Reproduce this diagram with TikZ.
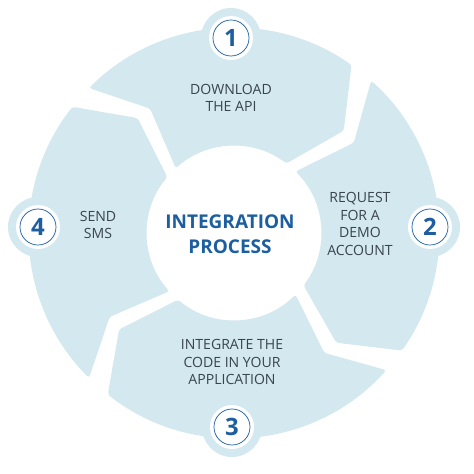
\documentclass[tikz,border=0pt]{standalone}
\usepackage{fontspec}
\setmainfont{Open Sans}
\usepackage{tikz}
\usetikzlibrary{calc}

\definecolor{ringblue}{RGB}{211,232,239}
\definecolor{titleblue}{RGB}{28,94,160}
\definecolor{textgray}{RGB}{58,68,78}

\tikzset{
  segment/.style={fill=ringblue, rounded corners=2pt},
  steptext/.style={align=center, text=textgray, font=\fontsize{10}{12.4}\selectfont},
  badge/.style={circle, draw=titleblue, line width=0.5pt, fill=white, minimum size=0.9cm,
    inner sep=0pt, text=titleblue, font=\fontsize{17}{17}\selectfont\bfseries}
}

\begin{document}
\begin{tikzpicture}[x=0.025cm,y=0.025cm]
\useasboundingbox (-234,-241) rectangle (240,233);

% Four arrow-shaped ring segments, clockwise
\foreach \bt/\bl in {142/55, 55/-35, -35/-128, 232/142}
  \fill[segment] (\bt-7:205) arc[start angle=\bt-7, end angle=\bl, radius=205]
    -- (\bl-12:150) -- (\bl-2:87)
    arc[start angle=\bl-2, end angle=\bt-10, radius=87]
    -- (\bt-18:150) -- cycle;

% Badge halos
\foreach \p in {(-3,195),(196,6),(-2,-194),(-196,6)} {
  \fill[ringblue] \p circle (30);
  \fill[white] \p circle (22);
}

\node[badge] (n1) at (-3,195) {1};
\node[badge] (n2) at (196,6) {2};
\node[badge] (n3) at (-2,-194) {3};
\node[badge] (n4) at (-196,6) {4};

\node[steptext] (t1) at (-3,135) {DOWNLOAD\\THE API};
\node[steptext] (t2) at (126,9) {REQUEST\\FOR A\\DEMO\\ACCOUNT};
\node[steptext] (t3) at (-2,-129) {INTEGRATE THE\\CODE IN YOUR\\APPLICATION};
\node[steptext] (t4) at (-136,8) {SEND\\SMS};

\node[align=center, text=titleblue, font=\fontsize{13.5}{17.8}\selectfont\bfseries] (title) at (-4,-1) {INTEGRATION\\PROCESS};
\end{tikzpicture}
\end{document}
